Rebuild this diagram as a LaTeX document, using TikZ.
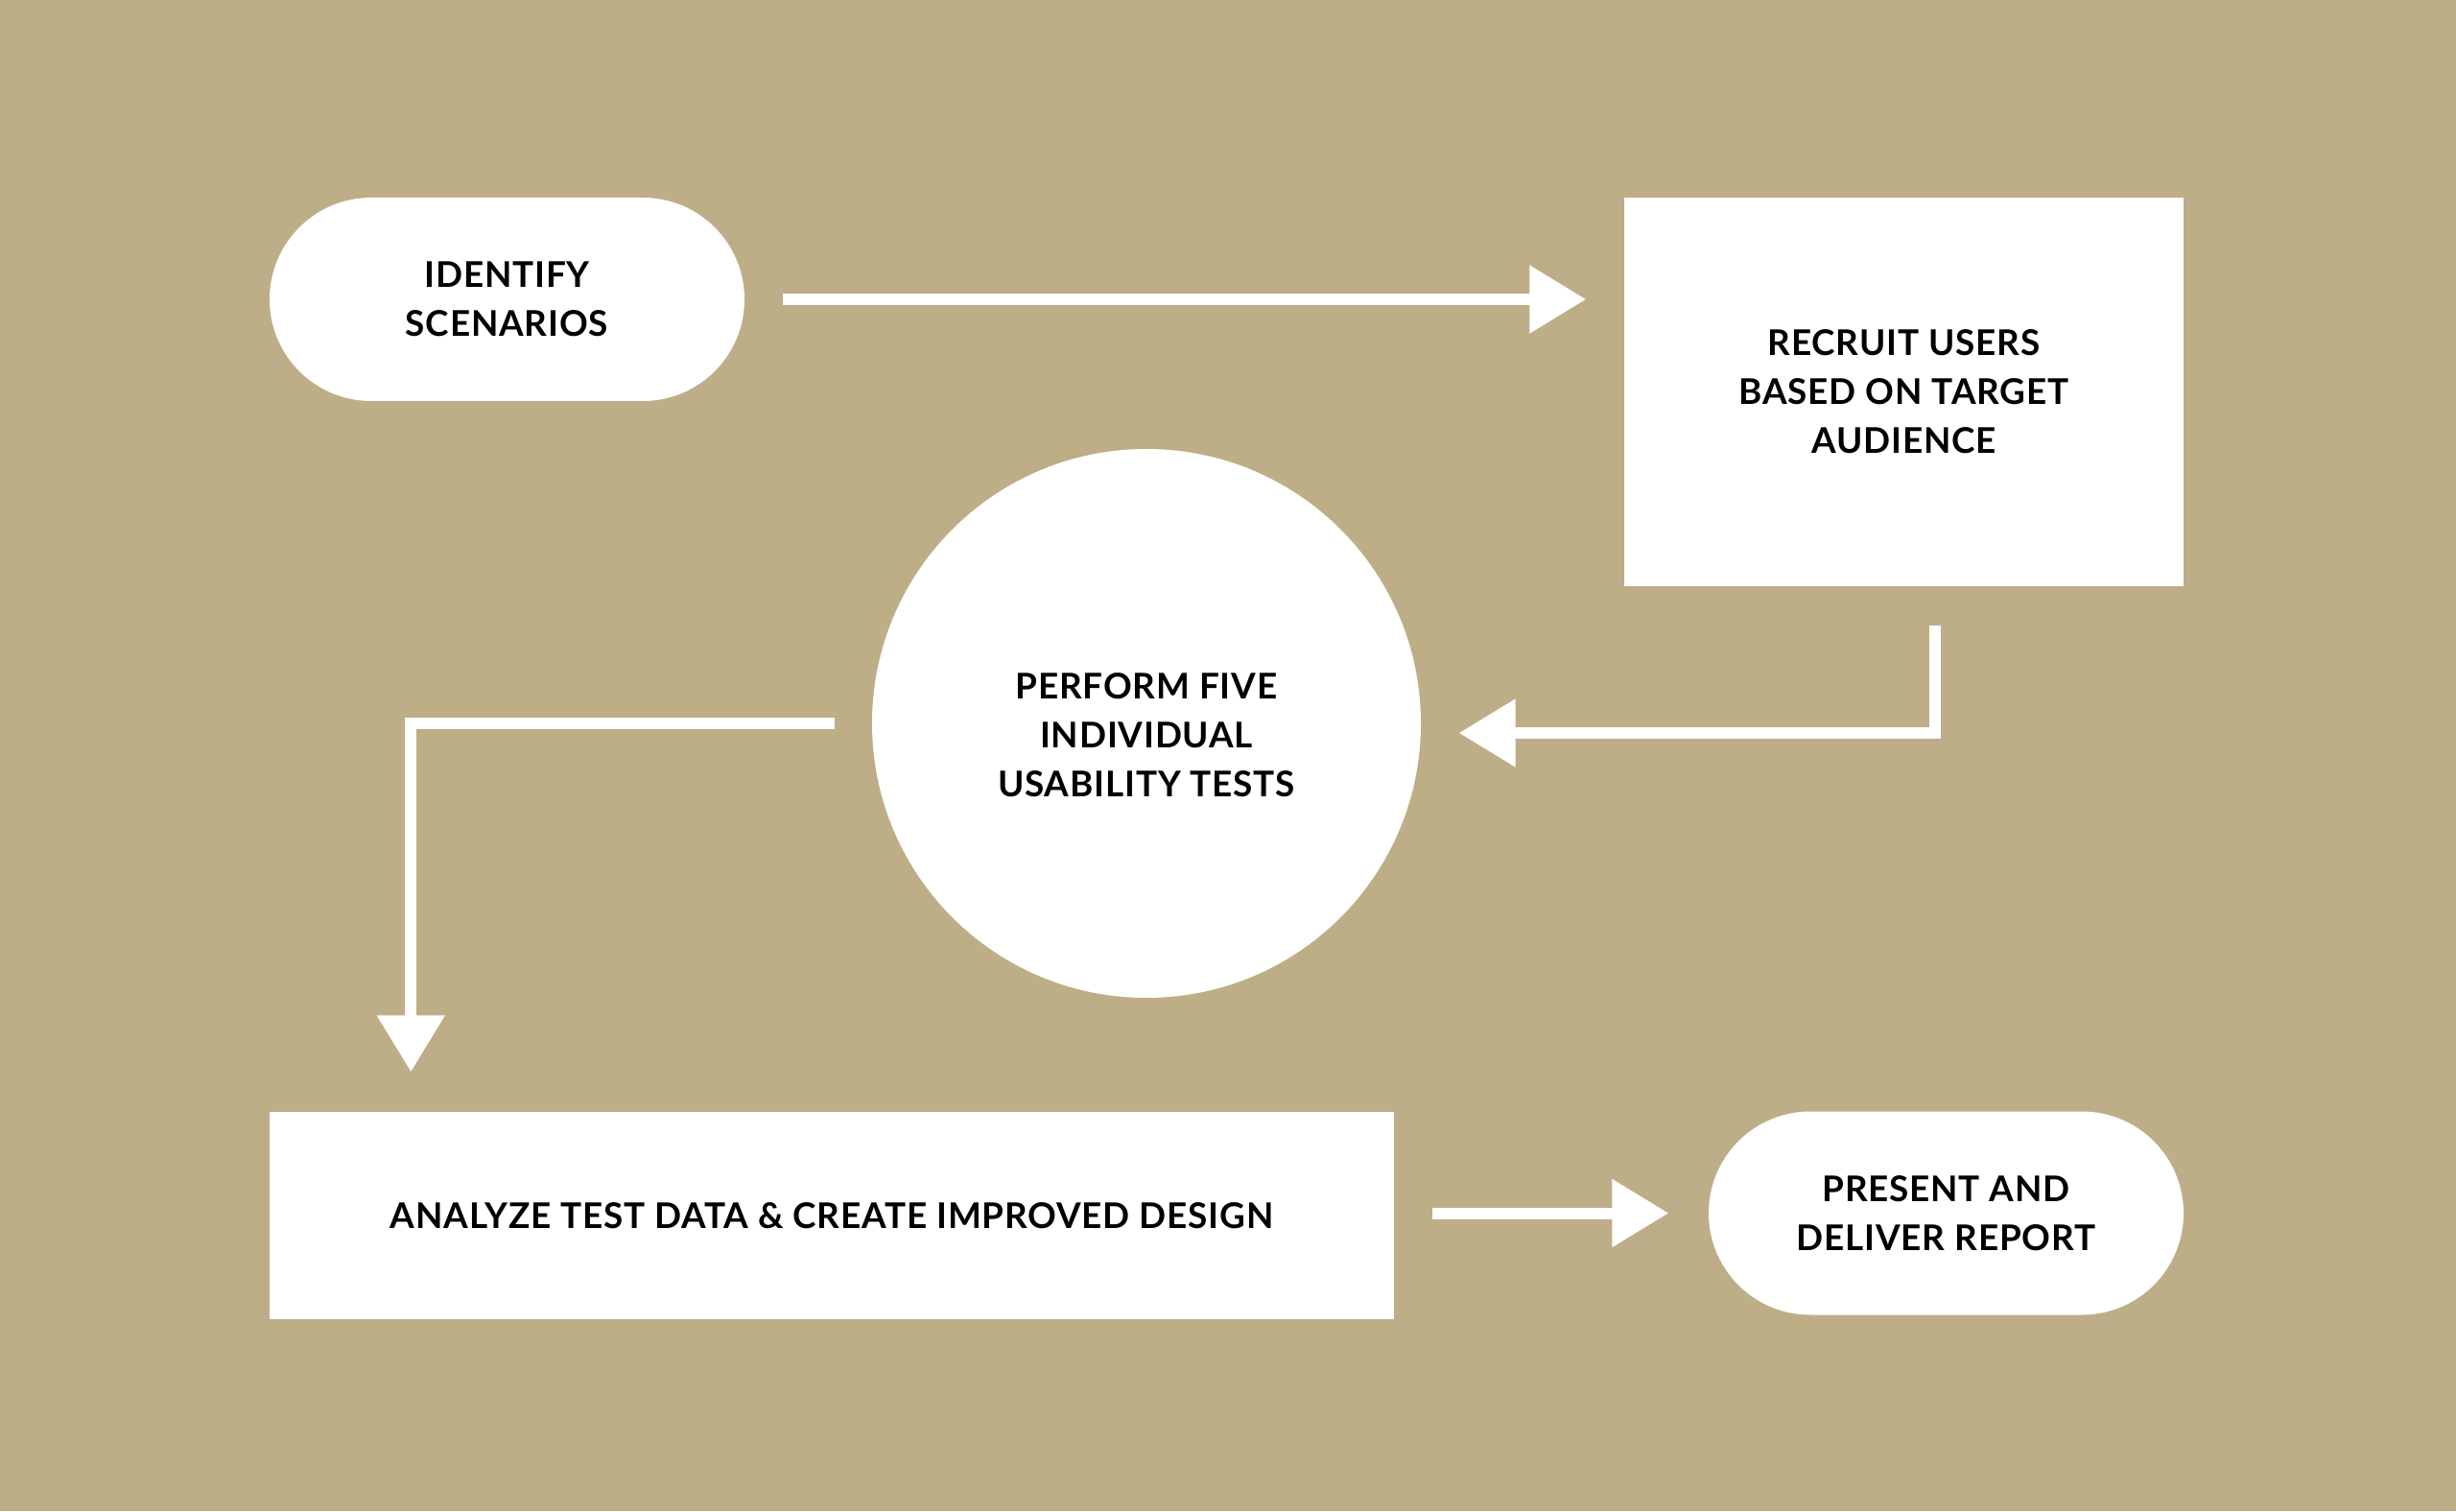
\documentclass[tikz,border=0pt]{standalone}
\usepackage{fontspec}
\setmainfont{Lato}[LetterSpace=2.2]
\usetikzlibrary{arrows.meta,shapes.misc}
\definecolor{sand}{HTML}{BEAE87}
\begin{document}
\begin{tikzpicture}[
        every node/.style={fill=white, draw=none, text=black, align=center,
            font=\bfseries\fontsize{10.5}{14.5}\selectfont, inner sep=0pt},
        pill/.style={rounded rectangle, minimum width=4.95cm, minimum height=2.12cm},
        box/.style={rectangle},
        disc/.style={circle, minimum size=5.72cm},
        caption/.style={fill=none},
        flow/.style={draw=white, line width=0.12cm,
            -{Triangle[length=0.59cm,width=0.68cm]}},
    ]
    \fill[sand] (0,0) rectangle (25.6,15.75);
    \useasboundingbox (0,0) rectangle (25.6,15.75);
    \node[pill](ident) at (5.285,12.63){IDENTIFY\\SCENARIOS};
    \node[box, minimum width=5.83cm, minimum height=4.05cm](recruit) at (19.845,11.665)
        {RECRUIT USERS\\BASED ON TARGET\\AUDIENCE};
    \node[disc](perform) at (11.95,8.21){};
    \node[caption](performtext) at ([yshift=-0.12cm]perform.center)
        {PERFORM FIVE\\INDIVIDUAL\\USABILITY TESTS};
    \node[box, minimum width=11.72cm, minimum height=2.16cm](analyze) at (8.67,3.08)
        {ANALYZE TEST DATA \& CREATE IMPROVED DESIGN};
    \node[pill](present) at (20.285,3.105){PRESENT AND\\DELIVER REPORT};
    % connectors
    \draw[flow, shorten <=0.39cm, shorten >=0.39cm]
        (ident.east) -- (ident.east -| recruit.west);
    \draw[flow, shorten <=0.40cm, shorten >=0.39cm]
        ([xshift=0.325cm]recruit.south) |- ([yshift=-0.10cm]perform.east);
    \draw[flow, shorten <=0.38cm, shorten >=0.41cm]
        (perform.west) -| ([xshift=1.48cm]analyze.north west);
    \draw[flow, shorten <=0.39cm, shorten >=0.41cm]
        (analyze.east |- present.west) -- (present.west);
\end{tikzpicture}
\end{document}
